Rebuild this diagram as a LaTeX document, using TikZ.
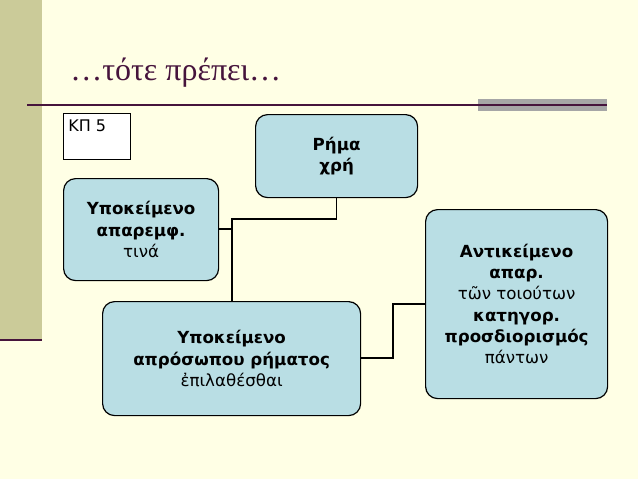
\documentclass[tikz,border=0pt]{standalone}
\usepackage{fontspec}
\setmainfont{DejaVu Sans}
\newfontfamily\titlefont{Liberation Serif}
\begin{document}
\begin{tikzpicture}[x=0.75pt,y=-0.75pt,
  box/.style={draw=black,line width=0.9pt,fill=boxfill,rounded corners=9pt,align=center,font=\fontsize{12.5}{16}\selectfont,inner sep=0pt},
  conn/.style={line width=1.3pt}]
\definecolor{bg}{RGB}{255,255,229}
\definecolor{boxfill}{RGB}{185,222,228}
\definecolor{barc}{RGB}{203,203,153}
\definecolor{titlec}{RGB}{70,20,60}
\fill[bg] (0,0) rectangle (638,479);
\useasboundingbox (0,0) rectangle (638,479);
\fill[barc] (0,0) rectangle (42,340);
\draw[titlec,line width=1.5pt] (0,340) -- (42,340);
\fill[black!35] (478,99) rectangle (607,111);
\draw[titlec,line width=1pt] (27,105) -- (607,105);
\node[anchor=base west,text=titlec,font=\titlefont\fontsize{24}{28}\selectfont,inner sep=0pt] (title) at (70,80) {…τότε πρέπει…};
\node[draw=black,fill=white,minimum width=67*0.75pt,minimum height=46*0.75pt,anchor=north west,inner sep=0pt] (kp) at (63,113) {};
\node[anchor=north west,font=\fontsize{12}{14}\selectfont,inner sep=0pt] (kpt) at (68,120) {ΚΠ 5};
\node[box,minimum width=162*0.75pt,minimum height=83*0.75pt,anchor=north west] (rhma) at (255,114) {\textbf{Ρήμα}\\\textbf{χρή}};
\node[box,minimum width=155*0.75pt,minimum height=102*0.75pt,anchor=north west] (yp1) at (63,178) {\textbf{Υποκείμενο}\\\textbf{απαρεμφ.}\\τινά};
\node[box,minimum width=258*0.75pt,minimum height=114*0.75pt,anchor=north west] (yp2) at (102,301) {\textbf{Υποκείμενο}\\\textbf{απρόσωπου ρήματος}\\ἐπιλαθέσθαι};
\node[box,minimum width=182*0.75pt,minimum height=189*0.75pt,anchor=north west] (ant) at (425,209) {\textbf{Αντικείμενο}\\\textbf{απαρ.}\\τῶν τοιούτων\\\textbf{κατηγορ.}\\\textbf{προσδιορισμός}\\πάντων};
\coordinate (j1) at (232,219);
\coordinate (j2) at (393,304);
\draw[conn] (rhma.south) |- (j1) -- (yp2.north -| j1);
\draw[conn] (yp1.east |- 0,229) -- (232,229);
\draw[conn] (yp2.east |- 0,358) -| (j2) -- (ant.west |- j2);
\end{tikzpicture}
\end{document}
